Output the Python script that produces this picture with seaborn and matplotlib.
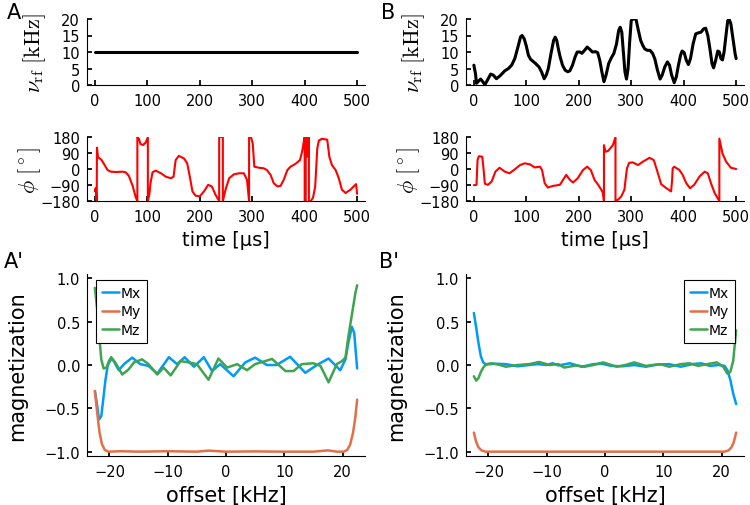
import numpy as np
import pandas as pd
import seaborn as sns
import matplotlib.pyplot as plt

# ---- data ----
# panel A: constant rf amplitude
t_nu_a = [0, 500]
nu_a = [10, 10]

# panel B: shaped rf amplitude (kHz)
t_nu_b = [0, 3, 5, 9, 13, 17, 21, 26, 32, 37, 43, 50, 59, 66, 72, 78, 84, 89, 92, 96,
          100, 104, 108, 117, 124, 129, 134, 138, 142, 147, 152, 155, 158, 161, 164, 169,
          174, 179, 183, 188, 193, 197, 202, 206, 211, 216, 221, 226, 232, 236, 240, 244,
          248, 252, 257, 262, 267, 272, 276, 279, 282, 285, 288, 291, 294, 297, 300, 303,
          309, 313, 318, 322, 326, 331, 336, 341, 345, 350, 355, 359, 364, 369, 373, 377,
          382, 386, 390, 394, 397, 401, 405, 409, 413, 418, 423, 428, 433, 438, 442, 446,
          450, 454, 457, 461, 465, 468, 471, 474, 477, 481, 484, 487, 490, 494, 498, 500]
nu_b = [6.0, 3.5, 0.5, 1.2, 1.8, 1.0, 0.1, 1.5, 3.3, 3.0, 1.9, 2.8, 4.3, 5.0, 6.0, 8.0,
        11.5, 14.6, 15.0, 14.0, 11.8, 9.0, 7.8, 6.6, 5.5, 4.0, 1.9, 3.0, 5.0, 9.5, 13.5,
        14.5, 13.5, 11.0, 8.8, 6.0, 4.5, 4.0, 4.3, 6.0, 8.5, 10.0, 10.0, 9.6, 10.5, 11.5,
        10.8, 10.0, 10.1, 9.8, 7.5, 4.0, 1.0, 3.0, 6.5, 8.2, 9.6, 12.5, 16.5, 17.5, 16.0,
        10.0, 4.0, 1.8, 5.0, 13.0, 19.5, 20.0, 20.0, 17.0, 13.5, 12.0, 10.9, 10.5, 10.5,
        9.5, 7.9, 4.5, 1.8, 3.0, 5.5, 7.0, 6.0, 3.0, 0.7, 2.5, 6.0, 9.0, 10.3, 9.8, 7.5,
        6.2, 8.0, 12.5, 15.5, 15.8, 16.0, 17.0, 17.2, 15.0, 11.0, 6.5, 5.2, 7.5, 10.3,
        10.0, 8.0, 7.6, 10.0, 15.5, 19.5, 19.8, 18.5, 14.0, 9.5, 8.0]

# phases (degrees)
t_phi_a = [0, 1.5, 3, 3.5, 4, 6, 9, 13, 18, 24, 30, 40, 53, 59, 65, 72, 78, 81, 81, 84,
           87, 92, 97, 101, 101, 104, 106, 110, 116, 126, 135, 145, 150, 154, 160, 170,
           176, 181, 186, 192, 200, 208, 216, 223, 230, 237, 237, 244, 244, 249, 256, 265,
           275, 284, 290, 294, 294, 298, 301, 304, 313, 322, 328, 335, 341, 348, 354, 360,
           367, 373, 382, 391, 395, 399, 400, 400, 402, 402, 404, 405, 407, 408, 408, 411,
           413, 416, 420, 424, 427, 433, 443, 447, 452, 459, 465, 471, 478, 487, 498, 500]
phi_a = [-125, -108, -160, -178, 120, 65, 60, 50, 25, -5, -15, -17, -15, -19, -40, -95,
         -160, -180, 180, 170, 140, 135, 150, 178, -180, -140, -80, -18, -9, -24, -43, -52,
         -43, 50, 74, 59, 32, -43, -126, -150, -154, -126, -89, -98, -145, -180, 180, 180,
         -180, -117, -52, -30, -24, -24, -61, -180, 180, 176, 143, 13, 7, 4, -6, -33, -80,
         -98, -95, -61, -6, 13, 28, 50, 97, 165, 180, -180, -180, 180, 180, 70, 70, 180,
         -180, -180, -175, -160, -100, 115, 160, 170, 165, 69, 22, -6, -52, -117, -135,
         -117, -85, -140]

t_phi_b = [0, 5, 7, 9.5, 16, 18, 21, 27, 34, 41, 49, 59, 68, 78, 88, 97, 107, 116, 126,
           130, 135, 141, 151, 164, 170, 176, 183, 189, 198, 208, 216, 223, 230, 237, 243,
           246, 248, 248, 251, 256, 265, 270, 270, 275, 281, 287, 290, 292, 296, 303, 313,
           322, 335, 343, 349, 357, 367, 376, 378, 379, 382, 392, 398, 405, 412, 420, 430,
           440, 446, 452, 459, 468, 468, 474, 481, 490, 500]
phi_b = [-91, -89, 50, 72, 69, 13, -83, -89, -70, -15, 7, -15, -24, -2, 22, 32, 26, 9, 13,
         -6, -80, -104, -95, -89, -61, -33, -61, -76, -52, -6, 13, -6, -61, -89, -117, -135,
         -180, 134, 97, 102, 134, 180, -180, -172, -154, -117, -40, 4, 35, 37, 22, 41, 63,
         50, -6, -85, -108, -126, -60, 4, 13, -6, -33, -80, -108, -89, -43, -15, -24, -80,
         -135, -180, 171, 87, 41, 7, 0]

# magnetization after pulse A (offset in kHz)
off_ax = [-22.5, -22.1, -21.8, -21.4, -21.1, -20.7, -20.3, -19.8, -19.3, -18.4, -17.5,
          -16.1, -14.7, -13.3, -11.8, -9.8, -8.4, -7.1, -5.5, -3.8, -2.4, -1.0, 1.3, 3.3,
          5.0, 7.0, 8.7, 11.0, 13.6, 15.6, 17.6, 19.6, 20.5, 21.0, 21.6, 22.0, 22.5]
mx_a = [-0.30, -0.47, -0.63, -0.59, -0.42, -0.18, -0.01, 0.065, 0.05, -0.06, 0.01, 0.085,
        0.01, -0.01, -0.10, 0.09, 0.01, 0.09, -0.02, 0.09, -0.07, 0.01, -0.13, 0.03, 0.085,
        0.0, 0.0, 0.095, -0.09, 0.0, 0.075, -0.06, 0.065, 0.26, 0.44, 0.37, -0.04]
off_ay = [-22.5, -22.1, -21.7, -21.3, -20.8, -20.2, -18, -15, -10, -5, -3, 0, 5, 10, 15,
          17.5, 19, 20.2, 20.8, 21.3, 21.8, 22.2, 22.5]
my_a = [-0.30, -0.55, -0.78, -0.91, -0.98, -1.0, -0.995, -1.0, -0.995, -1.0, -0.988, -1.0,
        -0.997, -1.0, -1.0, -0.985, -1.0, -1.0, -0.98, -0.92, -0.78, -0.60, -0.40]
off_az = [-22.5, -22.1, -21.7, -21.4, -21.0, -20.5, -20.1, -19.7, -19.0, -17.8, -16.7,
          -15.8, -14.4, -13.3, -11.8, -10.7, -9.5, -7.8, -6.4, -5.0, -3.0, -1.3, 0.2, 1.9,
          3.6, 5.0, 7.9, 10.2, 11.6, 13.0, 15.0, 16.2, 17.6, 19.0, 19.9, 20.5, 21.0, 21.6,
          22.2, 22.5]
mz_a = [0.89, 0.64, 0.30, 0.065, -0.04, -0.03, 0.045, 0.09, 0.03, -0.11, -0.05, 0.03,
        0.065, 0.01, -0.11, -0.03, -0.12, 0.045, 0.03, 0.01, -0.17, 0.075, -0.03, 0.01,
        -0.06, 0.01, 0.07, -0.07, -0.07, 0.01, 0.02, -0.01, -0.20, 0.01, 0.045, 0.085,
        0.33, 0.58, 0.83, 0.92]

# magnetization after pulse B
off_bx = [-22.5, -22.1, -21.7, -21.3, -20.9, -20.4, -19, -17, -15, -13, -11.5, -10, -9,
          -8, -6, -4, -2, -0.5, 1, 3, 5, 7, 9, 11, 13, 15, 16.5, 18, 19.5, 20.5, 21.0, 21.5,
          22.0, 22.5]
mx_b = [0.6, 0.43, 0.25, 0.10, 0.03, 0.005, 0.015, 0.01, -0.015, 0.0, 0.01, 0.0, 0.02,
        -0.005, 0.02, -0.02, 0.01, 0.015, -0.01, -0.015, 0.0, -0.02, 0.005, 0.01, -0.02,
        0.01, 0.02, -0.01, 0.0, -0.01, -0.06, -0.17, -0.33, -0.45]
off_by = [-22.5, -22.1, -21.7, -21.2, -20.5, 20.5, 21.2, 21.7, 22.1, 22.5]
my_b = [-0.78, -0.89, -0.95, -0.985, -1.0, -1.0, -0.985, -0.95, -0.89, -0.78]
off_bz = [-22.5, -22.1, -21.7, -21.3, -20.8, -20.3, -19.5, -18, -17, -15, -13, -11.3,
          -9.5, -8, -7, -5, -3.5, -2, -0.3, 2, 3.5, 5, 7, 9.5, 11, 13, 14.5, 16, 17.5, 19.2,
          20.3, 21.0, 21.5, 22.0, 22.5]
mz_b = [-0.13, -0.18, -0.15, -0.08, -0.02, 0.01, 0.02, 0.0, -0.02, 0.0, 0.01, 0.035, 0.0,
        0.01, -0.03, -0.005, -0.02, 0.0, 0.03, -0.02, 0.0, 0.03, -0.01, 0.01, -0.02, 0.01,
        0.02, -0.01, 0.01, 0.03, -0.02, -0.1, -0.08, 0.05, 0.4]

components = ["Mx", "My", "Mz"]
mag_colors = ["#009AFA", "#E36F47", "#3EA44E"]

# ---- style ----
sns.set_theme(style="ticks")
plt.rcParams.update({
    "font.family": ["DejaVu Sans"],
    "mathtext.fontset": "cm",
    "text.color": "black",
    "axes.labelcolor": "black",
    "xtick.direction": "in",
    "ytick.direction": "in",
    "xtick.color": "black",
    "ytick.color": "black",
    "axes.edgecolor": "black",
    "axes.linewidth": 0.8,
    "xtick.major.size": 3.5,
    "ytick.major.size": 3.5,
    "xtick.major.pad": 6,
    "ytick.major.pad": 5,
    "xtick.labelsize": 10.5,
    "ytick.labelsize": 10.5,
})

fig = plt.figure(figsize=(7.5, 5.06), dpi=100)
W, H = 750, 506


def add_ax(left, top, right, bottom):
    return fig.add_axes([left / W, 1 - bottom / H, (right - left) / W, (bottom - top) / H])


def mag_frame(offs, vals):
    rows = []
    for comp, o, v in zip(components, offs, vals):
        rows.append(pd.DataFrame({"offset": o, "value": v, "comp": comp}))
    return pd.concat(rows, ignore_index=True)


cols = [(87, 365, nu_a, t_nu_a, phi_a, t_phi_a, "A", 7),
        (466, 744, nu_b, t_nu_b, phi_b, t_phi_b, "B", 381)]

for left, right, nu, t_nu, phi, t_phi, tag, tx in cols:
    # rf amplitude
    ax = add_ax(left, 20, right, 86)
    sns.lineplot(x=t_nu, y=nu, ax=ax, color="black", lw=2.2, estimator=None, sort=False)
    ax.set_xlim(-15, 515)
    ax.set_ylim(0, 20)
    ax.set_xticks(range(0, 501, 100))
    ax.set_yticks([0, 5, 10, 15, 20])
    ax.set_ylabel(r"$\nu_\mathrm{rf}\ [\mathrm{kHz}]$", fontsize=16)
    ax.yaxis.set_label_coords(-0.14, 0.5)
    sns.despine(ax=ax)
    fig.text(tx / W, 1 - 3 / H, tag, fontsize=15, va="top", ha="left")

    # phase
    ax = add_ax(left, 138, right, 202)
    sns.lineplot(x=t_phi, y=phi, ax=ax, color="red", lw=1.5, estimator=None, sort=False)
    ax.set_xlim(-15, 515)
    ax.set_ylim(-180, 180)
    ax.set_xticks(range(0, 501, 100))
    ax.set_yticks([-180, -90, 0, 90, 180])
    ax.set_ylabel(r"$\phi\ [^\circ]$", fontsize=16)
    ax.yaxis.set_label_coords(-0.16, 0.5)
    ax.set_xlabel("time [µs]", fontsize=14)
    sns.despine(ax=ax)

# magnetization panels
mags = [(87, 365, [off_ax, off_ay, off_az], [mx_a, my_a, mz_a], "A'", 4, "upper left", (0.032, 0.967)),
        (466, 744, [off_bx, off_by, off_bz], [mx_b, my_b, mz_b], "B'", 379, "upper right", (0.968, 0.967))]

for left, right, offs, vals, tag, tx, loc, anchor in mags:
    ax = add_ax(left, 275, right, 457)
    df = mag_frame(offs, vals)
    sns.lineplot(data=df, x="offset", y="value", hue="comp", palette=mag_colors,
                 ax=ax, lw=1.8, estimator=None, sort=False)
    ax.set_xlim(-23.85, 23.85)
    ax.set_ylim(-1.05, 1.05)
    ax.set_xticks([-20, -10, 0, 10, 20])
    ax.set_yticks([-1.0, -0.5, 0.0, 0.5, 1.0])
    ax.set_yticklabels(["\u22121.0", "\u22120.5", "0.0", "0.5", "1.0"])
    ax.set_xlabel("offset [kHz]", fontsize=15)
    ax.set_ylabel("magnetization", fontsize=15)
    ax.yaxis.set_label_coords(-0.215, 0.5)
    leg = ax.legend(loc=loc, bbox_to_anchor=anchor, borderaxespad=0, fontsize=10,
                    fancybox=False, framealpha=1, edgecolor="black", handlelength=1.2,
                    handletextpad=0.15, labelspacing=0.3, borderpad=0.45)
    leg.get_frame().set_linewidth(0.8)
    sns.despine(ax=ax)
    fig.text(tx / W, 1 - 252 / H, tag, fontsize=15, va="top", ha="left")

plt.savefig("out.png", dpi=100)
